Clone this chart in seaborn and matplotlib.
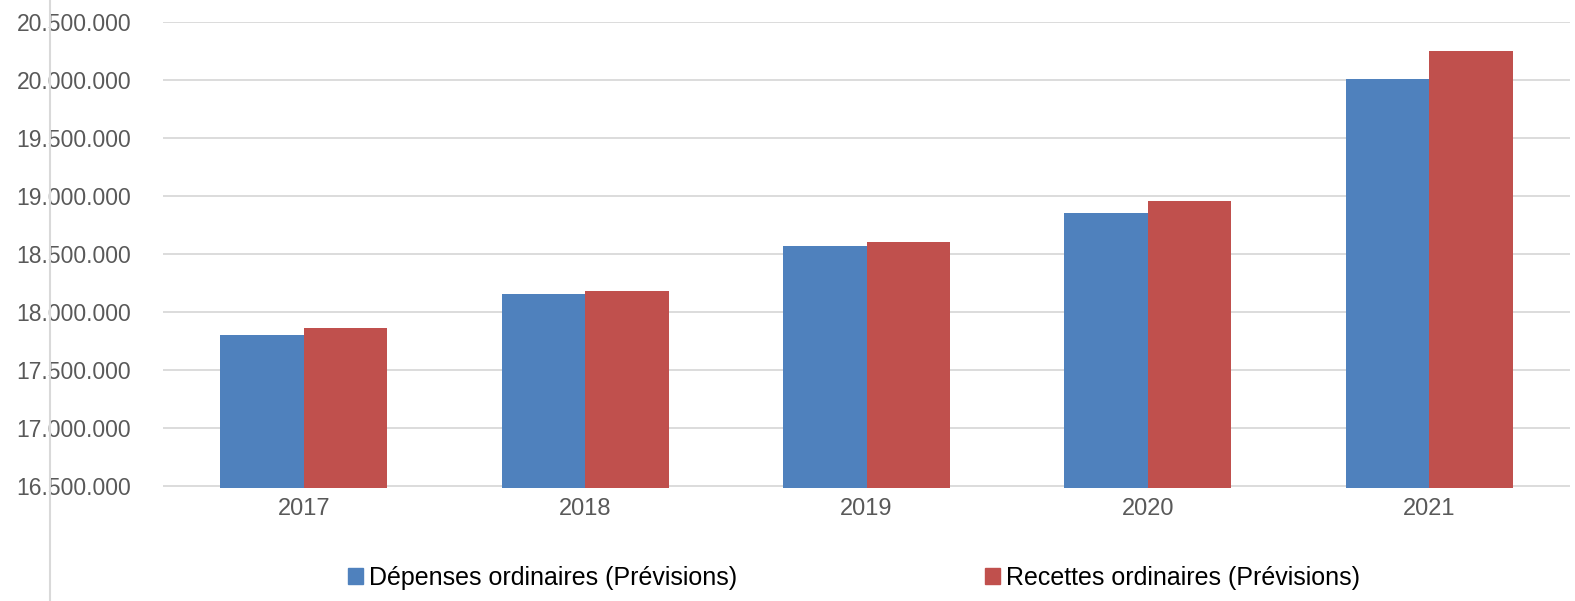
import matplotlib
matplotlib.use("Agg")
import matplotlib.pyplot as plt
import matplotlib.ticker as mticker
from matplotlib.lines import Line2D
import pandas as pd
import seaborn as sns

years = ["2017", "2018", "2019", "2020", "2021"]
depenses = [17800000, 18155000, 18570000, 18850000, 20010000]
recettes = [17860000, 18180000, 18600000, 18960000, 20250000]
series_names = ["Dépenses ordinaires (Prévisions)", "Recettes ordinaires (Prévisions)"]
y_ticks = [16500000, 17000000, 17500000, 18000000, 18500000, 19000000, 19500000, 20000000, 20500000]

colors = ["#4F81BD", "#C0504D"]
grid_color = "#D9D9D9"
label_color = "#595959"

df = pd.DataFrame({
    "year": years * 2,
    "value": depenses + recettes,
    "series": [series_names[0]] * len(years) + [series_names[1]] * len(years),
})

sns.set_style("white")
plt.rcParams["font.family"] = ["Liberation Sans", "DejaVu Sans"]

fig = plt.figure(figsize=(15.75, 6.01), dpi=100)
ax = fig.add_axes([163 / 1575, 1 - 488 / 601, 1407 / 1575, 466 / 601])

sns.barplot(data=df, x="year", y="value", hue="series", palette=colors,
            width=0.593, saturation=1, linewidth=0, ax=ax, legend=False)

ax.set_ylim(16483000, 20500000)
ax.set_yticks(y_ticks)
ax.yaxis.set_major_formatter(mticker.FuncFormatter(lambda v, p: f"{int(v):,}".replace(",", ".")))
ax.set_axisbelow(True)
ax.grid(axis="y", color=grid_color, linewidth=1.3)
ax.grid(axis="x", visible=False)
for s in ax.spines.values():
    s.set_visible(False)
ax.tick_params(axis="y", length=0, pad=23, labelsize=16.5, labelcolor=label_color)
ax.tick_params(axis="x", length=0, pad=7, labelsize=17, labelcolor=label_color)
ax.set_xlabel("")
ax.set_ylabel("")

# vertical line at the far left of the chart area
fig.add_artist(Line2D([50 / 1575, 50 / 1575], [0, 1], transform=fig.transFigure,
                      color=grid_color, linewidth=1.5))

handles = [plt.Rectangle((0, 0), 1, 1, color=c) for c in colors]
fig.legend(handles, series_names, loc="center", bbox_to_anchor=(854 / 1575, 1 - 578 / 601),
           ncol=2, frameon=False, fontsize=18, handlelength=0.6, handleheight=0.6,
           handletextpad=0.25, columnspacing=9.9, labelcolor="black")

fig.savefig("out.png", dpi=100)
